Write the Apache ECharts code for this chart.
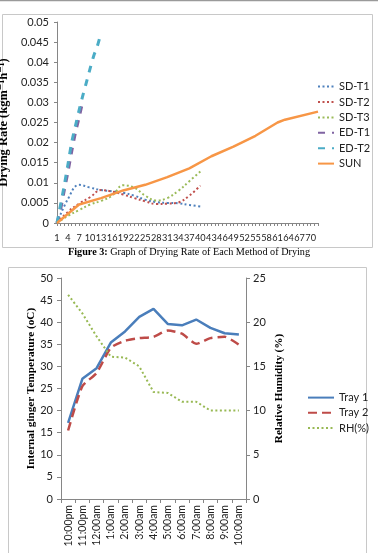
<!DOCTYPE html>
<html>
<head>
<meta charset="utf-8">
<script src="https://cdn.jsdelivr.net/npm/echarts@6/dist/echarts.min.js"></script>
<style>
  html, body { margin: 0; padding: 0; background: #fff; }
  #chart_id { width: 378px; height: 553px; }
</style>
</head>
<body>
<div id="chart_id"></div>
<script>
// figure 3 - drying rate, x categories 1..72
const rateCats = ['1','2','3','4','5','6','7','8','9','10','11','12','13','14','15','16','17','18',
  '19','20','21','22','23','24','25','26','27','28','29','30','31','32','33','34','35','36',
  '37','38','39','40','41','42','43','44','45','46','47','48','49','50','51','52','53','54',
  '55','56','57','58','59','60','61','62','63','64','65','66','67','68','69','70','71','72'];
const rateTicks = [0, 0.005, 0.01, 0.015, 0.02, 0.025, 0.03, 0.035, 0.04, 0.045, 0.05];

const sdCats = ['1','4','7','10','13','16','19','22','25','28','31','34','37','40'];
const sdT1 = [0, 0.0060, 0.0095, 0.0088, 0.0082, 0.0079, 0.0075, 0.0068, 0.0058, 0.0052, 0.0050, 0.0049, 0.0045, 0.0041];
const sdT2 = [0, 0.0028, 0.0048, 0.0064, 0.0082, 0.0078, 0.0071, 0.0062, 0.0054, 0.0047, 0.0048, 0.0051, 0.0068, 0.0093];
const sdT3 = [0, 0.0018, 0.0032, 0.0046, 0.0055, 0.0068, 0.0094, 0.0088, 0.0068, 0.0056, 0.0062, 0.0080, 0.0104, 0.0128];

const edT1Cats = ['1','2','3','4','5','6','7','8'];
const edT1 = [0, 0.0035, 0.0082, 0.0128, 0.0178, 0.0224, 0.0262, 0.0302];
const edT2Cats = ['1','2','3','4','5','6','7','8','9','10','11','12','13'];
const edT2 = [0, 0.0047, 0.0095, 0.0147, 0.0201, 0.0241, 0.0280, 0.0316, 0.0350, 0.0384, 0.0416, 0.0441, 0.0474];

const sunCats = ['1','7','13','19','25','31','37','43','49','55','61','63','72'];
const sun = [0, 0.0046, 0.0062, 0.0081, 0.0095, 0.0114, 0.0136, 0.0166, 0.0190, 0.0217, 0.0250, 0.0257, 0.0277];

// second chart - temperature / RH over the night
const timeCats = ['10:00pm','11:00pm','12:00am','1:00am','2:00am','3:00am','4:00am',
  '5:00am','6:00am','7:00am','8:00am','9:00am','10:00am'];
const tray1 = [17.2, 27.2, 29.6, 35.4, 37.9, 41.2, 43.0, 39.6, 39.3, 40.6, 38.7, 37.5, 37.2];
const tray2 = [15.5, 25.5, 28.5, 34.2, 35.8, 36.4, 36.7, 38.1, 37.4, 35.1, 36.4, 36.7, 34.9];
const rh = [23.1, 21.0, 18.4, 16.1, 16.0, 15.0, 12.1, 12.0, 11.0, 11.0, 10.0, 10.0, 10.0];

function pairs(cats, vals) {
  return cats.map(function (c, i) { return [c, vals[i]]; });
}

const labelFont = 'Lato, "Liberation Sans", sans-serif';
const serifFont = '"Liberation Serif", "DejaVu Serif", serif';
const axisGray = '#868686';

const chart = echarts.init(document.getElementById('chart_id'));

const option = {
  animation: false,
  backgroundColor: '#fff',
  title: {
    text: '{b|Figure 3:} Graph of Drying Rate of Each Method of Drying',
    left: 'center',
    top: 242,
    textStyle: {
      fontFamily: serifFont,
      fontSize: 10.2,
      fontWeight: 'normal',
      color: '#000',
      rich: { b: { fontFamily: serifFont, fontSize: 10.2, fontWeight: 'bold', color: '#000' } }
    }
  },
  graphic: [
    { type: 'line', shape: { x1: 0, y1: 0.5, x2: 378, y2: 0.5 }, style: { stroke: '#9a9a9a', lineWidth: 1.5 }, silent: true },
    { type: 'rect', shape: { x: 2.5, y: 14.5, width: 370, height: 233 }, style: { fill: 'none', stroke: '#c8c8c8', lineWidth: 1 }, silent: true, z: -1 },
    { type: 'rect', shape: { x: 8.5, y: 267.5, width: 358, height: 300 }, style: { fill: 'none', stroke: '#c8c8c8', lineWidth: 1 }, silent: true, z: -1 }
  ],
  legend: [
    {
      orient: 'vertical',
      left: 312,
      top: 76,
      itemWidth: 16,
      itemHeight: 14,
      itemGap: 4.2,
      itemStyle: { opacity: 0 },
      textStyle: { fontFamily: labelFont, fontSize: 11, color: '#222' },
      data: ['SD-T1', 'SD-T2', 'SD-T3', 'ED-T1', 'ED-T2', 'SUN']
    },
    {
      orient: 'vertical',
      left: 302,
      top: 387,
      itemWidth: 26,
      itemHeight: 14,
      itemGap: 4,
      itemStyle: { opacity: 0 },
      textStyle: { fontFamily: labelFont, fontSize: 11, color: '#222' },
      data: ['Tray 1', 'Tray 2', 'RH(%)']
    }
  ],
  grid: [
    { left: 57, top: 22, width: 261, height: 201, outerBoundsMode: 'none' },
    { left: 61, top: 278, width: 185, height: 221, outerBoundsMode: 'none' }
  ],
  xAxis: [
    {
      type: 'category',
      gridIndex: 0,
      data: rateCats,
      boundaryGap: false,
      axisLine: { lineStyle: { color: axisGray } },
      axisTick: { show: true, interval: 0, length: 3, lineStyle: { color: axisGray } },
      axisLabel: {
        // every third category: 1, 4, 7 ... 70
        interval: function (index) { return index % 3 === 0; },
        margin: 11, fontFamily: labelFont, fontSize: 9.2, color: '#222'
      },
      splitLine: { show: false }
    },
    {
      type: 'category',
      gridIndex: 1,
      data: timeCats,
      boundaryGap: true,
      axisLine: { lineStyle: { color: axisGray } },
      axisTick: { show: true, interval: 0, length: 4, lineStyle: { color: axisGray } },
      axisLabel: { interval: 0, rotate: 90, margin: 6, fontFamily: labelFont, fontSize: 10.5, color: '#222' },
      splitLine: { show: false }
    }
  ],
  yAxis: [
    {
      type: 'value',
      gridIndex: 0,
      min: rateTicks[0],
      max: rateTicks[rateTicks.length - 1],
      interval: 0.005,
      name: 'Drying Rate (kgm⁻¹h⁻¹)',
      nameLocation: 'middle',
      nameGap: 45,
      nameTextStyle: { fontFamily: serifFont, fontSize: 12.5, fontWeight: 'bold', color: '#000' },
      axisLine: { show: true, lineStyle: { color: axisGray } },
      axisTick: { show: true, length: 3, lineStyle: { color: axisGray } },
      axisLabel: { margin: 8, fontFamily: labelFont, fontSize: 11, color: '#222' },
      splitLine: { show: false }
    },
    {
      type: 'value',
      gridIndex: 1,
      min: 0,
      max: 50,
      interval: 5,
      name: 'Internal ginger Temperature (oC)',
      nameLocation: 'middle',
      nameGap: 23,
      nameTextStyle: { fontFamily: serifFont, fontSize: 11.2, fontWeight: 'bold', color: '#000' },
      axisLine: { show: true, lineStyle: { color: axisGray } },
      axisTick: { show: true, length: 4, lineStyle: { color: axisGray } },
      axisLabel: { margin: 8, fontFamily: labelFont, fontSize: 11, color: '#222' },
      splitLine: { show: false }
    },
    {
      type: 'value',
      gridIndex: 1,
      position: 'right',
      min: 0,
      max: 25,
      interval: 5,
      name: 'Relative Humidity (%)',
      nameLocation: 'middle',
      nameRotate: 90,
      nameGap: 28,
      nameTextStyle: { fontFamily: serifFont, fontSize: 11.2, fontWeight: 'bold', color: '#000' },
      axisLine: { show: true, lineStyle: { color: axisGray } },
      axisTick: { show: true, length: 4, lineStyle: { color: axisGray } },
      axisLabel: { margin: 7, fontFamily: labelFont, fontSize: 11, color: '#222' },
      splitLine: { show: false }
    }
  ],
  series: [
    {
      name: 'SD-T1', type: 'line', xAxisIndex: 0, yAxisIndex: 0,
      data: pairs(sdCats, sdT1), symbol: 'none', smooth: 0.4,
      lineStyle: { color: '#4f81bd', width: 2, type: [2, 2.5] }, itemStyle: { color: '#4f81bd' }
    },
    {
      name: 'SD-T2', type: 'line', xAxisIndex: 0, yAxisIndex: 0,
      data: pairs(sdCats, sdT2), symbol: 'none', smooth: 0.4,
      lineStyle: { color: '#c0504d', width: 2, type: [2, 2.5] }, itemStyle: { color: '#c0504d' }
    },
    {
      name: 'SD-T3', type: 'line', xAxisIndex: 0, yAxisIndex: 0,
      data: pairs(sdCats, sdT3), symbol: 'none', smooth: 0.4,
      lineStyle: { color: '#9bbb59', width: 2, type: [2, 2.5] }, itemStyle: { color: '#9bbb59' }
    },
    {
      name: 'ED-T1', type: 'line', xAxisIndex: 0, yAxisIndex: 0,
      data: pairs(edT1Cats, edT1), symbol: 'none', smooth: 0.3,
      lineStyle: { color: '#8064a2', width: 3, type: [7, 7] }, itemStyle: { color: '#8064a2' }
    },
    {
      name: 'ED-T2', type: 'line', xAxisIndex: 0, yAxisIndex: 0,
      data: pairs(edT2Cats, edT2), symbol: 'none', smooth: 0.3,
      lineStyle: { color: '#4bacc6', width: 3, type: [7, 7] }, itemStyle: { color: '#4bacc6' }
    },
    {
      name: 'SUN', type: 'line', xAxisIndex: 0, yAxisIndex: 0,
      data: pairs(sunCats, sun), symbol: 'none',
      lineStyle: { color: '#f79646', width: 2.5 }, itemStyle: { color: '#f79646' }
    },
    {
      name: 'Tray 1', type: 'line', xAxisIndex: 1, yAxisIndex: 1,
      data: tray1, symbol: 'none',
      lineStyle: { color: '#4a7ebb', width: 2.5 }, itemStyle: { color: '#4a7ebb' }
    },
    {
      name: 'Tray 2', type: 'line', xAxisIndex: 1, yAxisIndex: 1,
      data: tray2, symbol: 'none', smooth: 0.2,
      lineStyle: { color: '#be4b48', width: 2.5, type: [9, 5] }, itemStyle: { color: '#be4b48' }
    },
    {
      name: 'RH(%)', type: 'line', xAxisIndex: 1, yAxisIndex: 2,
      data: rh, symbol: 'none',
      lineStyle: { color: '#98b954', width: 2, type: [2, 2.5] }, itemStyle: { color: '#98b954' }
    }
  ]
};

chart.setOption(option);
</script>
</body>
</html>
